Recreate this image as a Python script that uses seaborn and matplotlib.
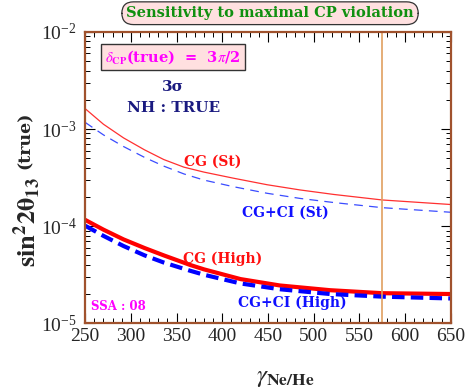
import matplotlib
matplotlib.use("Agg")
import matplotlib.pyplot as plt
import numpy as np
import pandas as pd
import seaborn as sns
from matplotlib.ticker import LogLocator, MultipleLocator, NullFormatter

# values
gamma_st = [250, 270, 292, 315, 336, 358, 380, 412, 449, 485, 522, 575, 650]
cg_st = [1.62e-3, 1.12e-3, 8.1e-4, 6.1e-4, 4.85e-4, 4.05e-4, 3.6e-4, 3.12e-4,
         2.67e-4, 2.36e-4, 2.12e-4, 1.86e-4, 1.67e-4]
cgci_st = [1.17e-3, 8.7e-4, 6.6e-4, 5.1e-4, 4.15e-4, 3.45e-4, 2.98e-4, 2.55e-4,
           2.18e-4, 1.93e-4, 1.75e-4, 1.55e-4, 1.39e-4]

gamma_high = [250, 270, 292, 315, 336, 365, 380, 420, 463, 518, 575, 650]
cg_high = [1.16e-4, 9.2e-5, 7.3e-5, 5.95e-5, 5.0e-5, 3.98e-5, 3.59e-5, 2.85e-5,
           2.45e-5, 2.19e-5, 2.04e-5, 2.0e-5]
cgci_high = [1.01e-4, 7.94e-5, 6.24e-5, 5.0e-5, 4.22e-5, 3.47e-5, 3.16e-5, 2.57e-5,
             2.24e-5, 2.0e-5, 1.88e-5, 1.8e-5]
gamma_mark = 575

st = pd.DataFrame({"gamma": gamma_st, "cg": cg_st, "cgci": cgci_st})
high = pd.DataFrame({"gamma": gamma_high, "cg": cg_high, "cgci": cgci_high})

sns.set_style("ticks")
plt.rcParams["font.family"] = ["Liberation Serif", "DejaVu Serif"]
plt.rcParams["mathtext.fontset"] = "stix"

fig = plt.figure(figsize=(4.68, 3.89), dpi=100)
ax = fig.add_axes([0.182, 0.169, 0.781, 0.749])

sns.lineplot(data=st, x="gamma", y="cg", ax=ax, color="#ff3030", lw=0.9)
sns.lineplot(data=st, x="gamma", y="cgci", ax=ax, color="#3a4cff", lw=0.9)
ax.lines[-1].set_dashes([7, 5])
sns.lineplot(data=high, x="gamma", y="cg", ax=ax, color="#ff0000", lw=3.0)
sns.lineplot(data=high, x="gamma", y="cgci", ax=ax, color="#0000ff", lw=3.0)
ax.lines[-1].set_dashes([3, 1.5])
ax.axvline(gamma_mark, color="#e0a060", lw=1.2)

ax.set_yscale("log")
ax.set_xlim(250, 650)
ax.set_ylim(1e-5, 1e-2)
ax.xaxis.set_major_locator(MultipleLocator(50))
ax.xaxis.set_minor_locator(MultipleLocator(10))
ax.yaxis.set_major_locator(LogLocator(base=10))
ax.yaxis.set_minor_locator(LogLocator(base=10, subs=np.arange(2, 10)))
ax.yaxis.set_minor_formatter(NullFormatter())
ax.tick_params(which="both", direction="in", top=True, right=True,
               labelsize=14, color="black")
ax.tick_params(which="major", length=7, width=0.8)
ax.tick_params(which="minor", length=3.5, width=0.7)
ax.tick_params(axis="y", pad=6)
for s in ax.spines.values():
    s.set_color("#a0522d")
    s.set_linewidth(1.6)

ax.set_xlabel("")
ax.set_ylabel("")
fig.text(285 / 468, 1 - 378 / 389, r"$\gamma_{\mathbf{Ne/He}}$", fontsize=18,
         ha="center", va="center")
fig.text(27 / 468, 1 - 222 / 389, r"$\mathbf{sin^22\theta_{13}}$", fontsize=19,
         rotation=90, ha="center", va="center")
fig.text(25 / 468, 1 - 140 / 389, "(true)", fontsize=12.5, rotation=90,
         family="DejaVu Serif", fontweight="bold", ha="center", va="center")

bold = dict(family="DejaVu Serif", fontweight="bold", ha="center", va="center")
ax.text(0.241, 0.914, r"$\delta_{\mathbf{CP}}$(true)  =  3$\pi$/2", color="#ff00ff",
        fontsize=10.5, transform=ax.transAxes,
        bbox=dict(boxstyle="square,pad=0.3", fc="#ffe0e0", ec="#333333", lw=1.0),
        **bold)
ax.text(0.241, 0.811, "3σ", color="#1a1a80", fontsize=11,
        transform=ax.transAxes, **bold)
ax.text(0.241, 0.739, "NH : TRUE", color="#1a1a80", fontsize=11,
        transform=ax.transAxes, **bold)
ax.text(0.35, 0.554, "CG (St)", color="#ff1010", fontsize=10,
        transform=ax.transAxes, **bold)
ax.text(0.547, 0.379, "CG+CI (St)", color="#1010ff", fontsize=10,
        transform=ax.transAxes, **bold)
ax.text(0.375, 0.221, "CG (High)", color="#ff1010", fontsize=10,
        transform=ax.transAxes, **bold)
ax.text(0.566, 0.07, "CG+CI (High)", color="#1010ff", fontsize=10,
        transform=ax.transAxes, **bold)
ax.text(0.09, 0.056, "SSA : 08", color="#ff00ff", fontsize=8.5,
        transform=ax.transAxes, **bold)

fig.text(0.577, 0.966, "Sensitivity to maximal CP violation", color="#109010",
         fontsize=10.5,
         bbox=dict(boxstyle="round,pad=0.3,rounding_size=0.8", fc="#ffe0e0",
                   ec="#333333", lw=0.9),
         **bold)

fig.savefig("out.png", dpi=100)
